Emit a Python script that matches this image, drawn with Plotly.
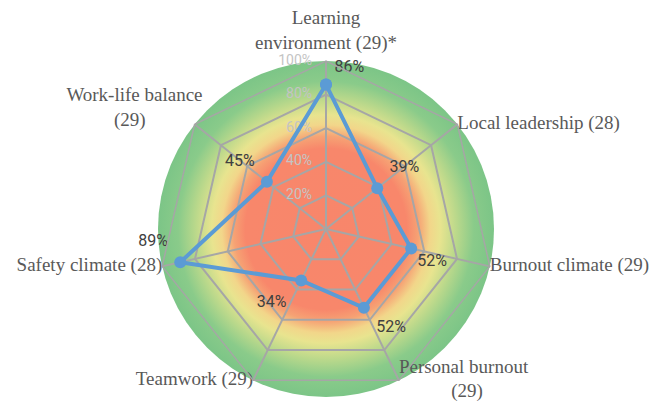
import base64
import plotly.graph_objects as go

categories = [
    "Learning environment (29)*",
    "Local leadership (28)",
    "Burnout climate (29)",
    "Personal burnout (29)",
    "Teamwork (29)",
    "Safety climate (28)",
    "Work-life balance (29)",
]
category_labels = [
    "Learning<br>environment (29)*",
    "Local leadership (28)",
    "Burnout climate (29)",
    "Personal burnout<br>" + "\u00a0" * 11 + "(29)",
    "Teamwork (29)",
    "Safety climate (28)",
    "Work-life balance<br>(29)" + "\u00a0" * 12,
]
values = [86, 39, 52, 52, 34, 89, 45]
value_labels = ["86%", "39%", "52%", "52%", "34%", "89%", "45%"]
radial_ticks = [0, 20, 40, 60, 80, 100]
radial_tick_labels = ["0%", "20%", "40%", "60%", "80%", "100%"]

# styling / placement (not data)
label_positions = ["top right", "top right", "bottom right", "bottom right",
                   "bottom left", "top left", "top left"]
label_gap = [12, 18, 8, 18, 22, 18, 18]
cat_label_r = [100, 100, 100, 100, 100, 100, 94]
cat_label_gap = [10, 0, 0, 0, 0, 0, 0]
cat_label_pos = ["top center", "middle right", "middle right", "middle right",
                 "middle left", "middle left", "top left"]

# page has an 8px body margin: figure is drawn from (8, 8)
OFF = 8
W, H = 659 - OFF, 407 - OFF
cx, cy, R = 326 - OFF, 229 - OFF, 168  # pixel centre / radius of the radar

svg = """<svg xmlns='http://www.w3.org/2000/svg' width='400' height='400' viewBox='0 0 400 400'>
<defs><radialGradient id='g' cx='50%' cy='50%' r='50%'>
<stop offset='0%' stop-color='#F8866B'/>
<stop offset='48%' stop-color='#F8876B'/>
<stop offset='55%' stop-color='#F6A274'/>
<stop offset='62%' stop-color='#F2D68A'/>
<stop offset='68%' stop-color='#E8E48F'/>
<stop offset='78%' stop-color='#B9D88B'/>
<stop offset='88%' stop-color='#8ACB8A'/>
<stop offset='100%' stop-color='#7CC587'/>
</radialGradient></defs>
<circle cx='200' cy='200' r='200' fill='url(#g)'/>
</svg>"""
src = "data:image/svg+xml;base64," + base64.b64encode(svg.encode()).decode()

theta = categories + [categories[0]]
r = values + [values[0]]

narrow = "Liberation Sans Narrow, Roboto, sans-serif"
serif = "Liberation Serif, Times New Roman, serif"

fig = go.Figure()
fig.add_trace(go.Scatterpolar(
    r=radial_ticks, theta=[categories[0]] * len(radial_ticks), mode="text",
    text=[t + "\u00a0" * 4 for t in radial_tick_labels], textposition="middle left",
    textfont=dict(family=narrow, size=14, color="#C4C4C4"),
    hoverinfo="skip", showlegend=False, cliponaxis=False,
))
fig.add_trace(go.Scatterpolar(
    r=r, theta=theta, mode="lines+markers",
    line=dict(color="#5B9BD5", width=4),
    marker=dict(color="#5B9BD5", size=12),
    hoverinfo="skip", showlegend=False,
))
fig.add_trace(go.Scatterpolar(
    r=values, theta=categories, mode="markers+text",
    marker=dict(size=label_gap, opacity=0),
    text=value_labels, textposition=label_positions,
    textfont=dict(family=narrow, size=16, color="#404040"),
    hoverinfo="skip", showlegend=False, cliponaxis=False,
))
fig.add_trace(go.Scatterpolar(
    r=cat_label_r, theta=categories, mode="markers+text",
    marker=dict(size=cat_label_gap, opacity=0),
    text=category_labels, textposition=cat_label_pos,
    textfont=dict(family=serif, size=19, color="#595959"),
    hoverinfo="skip", showlegend=False, cliponaxis=False,
))

dom_x = [(cx - R) / W, (cx + R) / W]
dom_y = [(H - cy - R) / H, (H - cy + R) / H]

fig.update_layout(
    width=W, height=H,
    margin=dict(l=0, r=0, t=0, b=0),
    paper_bgcolor="white",
    images=[dict(source=src, xref="paper", yref="paper",
                 x=dom_x[0], y=dom_y[1], sizex=dom_x[1] - dom_x[0], sizey=dom_y[1] - dom_y[0],
                 xanchor="left", yanchor="top", sizing="stretch", layer="below")],
    polar=dict(
        domain=dict(x=dom_x, y=dom_y),
        bgcolor="rgba(0,0,0,0)",
        gridshape="linear",
        radialaxis=dict(
            range=[0, 100], tickvals=radial_ticks,
            angle=90, showticklabels=False,
            showline=False, ticks="",
            gridcolor="#A6A6A6", gridwidth=1.5,
        ),
        angularaxis=dict(
            direction="clockwise", rotation=90,
            categoryarray=categories, categoryorder="array",
            showline=True, linecolor="#A6A6A6", linewidth=1.5,
            gridcolor="#A6A6A6", gridwidth=1.5, ticks="",
            showticklabels=False,
        ),
    ),
)

fig.write_html("out.html")
